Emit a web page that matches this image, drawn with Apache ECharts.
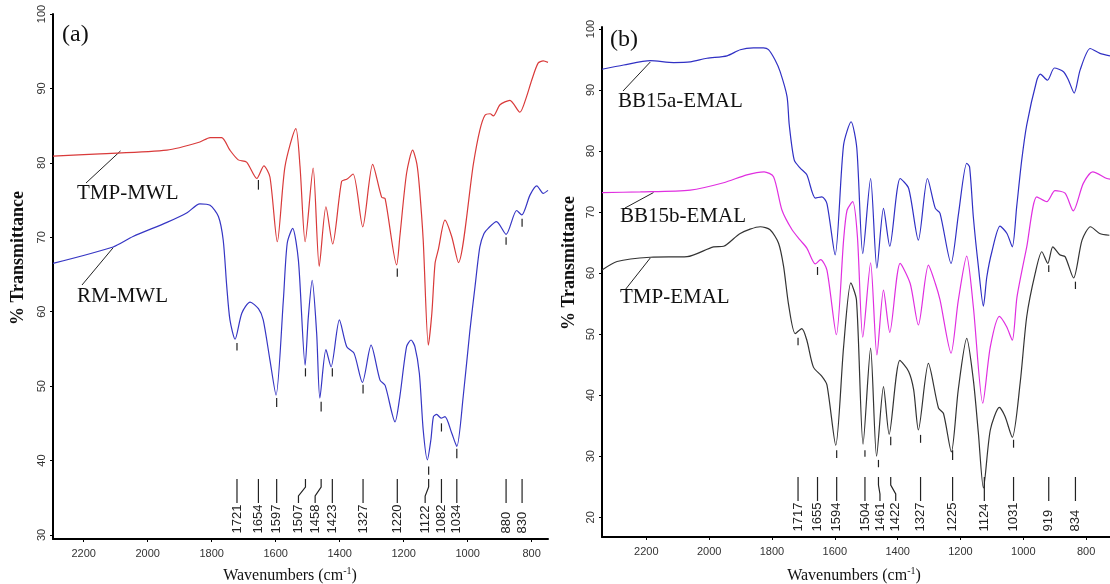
<!DOCTYPE html>
<html>
<head>
<meta charset="utf-8">
<title>FTIR spectra</title>
<script src="https://cdn.jsdelivr.net/npm/echarts@6.0.0/dist/echarts.min.js"></script>
<style>
  html, body { margin: 0; padding: 0; background: #fff; }
  #chart { width: 1110px; height: 584px; }
</style>
</head>
<body>
<div id="chart"></div>
<script>
// axis ticks
const wnTicks = [800, 1000, 1200, 1400, 1600, 1800, 2000, 2200]
const tTicksA = [30, 40, 50, 60, 70, 80, 90, 100]
const tTicksB = [20, 30, 40, 50, 60, 70, 80, 90, 100]

// panel (a) spectra: [wavenumber, %T]
const tmpMwl = [
  [2296, 80.9], [2149, 81.2], [1940, 81.7], [1837, 82.8], [1805, 83.4], [1769, 83.4], [1743, 81.7],
  [1717, 80.4], [1691, 80.1], [1659, 77.9], [1637, 79.6], [1618, 78.1], [1595, 69.4], [1571, 79.5],
  [1537, 84.6], [1524, 79.5], [1508, 69.4], [1483, 79.3], [1464, 66.1], [1443, 74.1], [1422, 69.1],
  [1394, 77.5], [1378, 77.8], [1358, 78.5], [1328, 71.4], [1297, 79.8], [1269, 75.4], [1258, 75.2],
  [1222, 66.3], [1212, 70.1], [1191, 78.6], [1172, 81.7], [1159, 79.9], [1151, 76.8], [1139, 69.6],
  [1123, 55.5], [1112, 59.8], [1102, 66.5], [1092, 68.3], [1071, 72.3], [1050, 70.1], [1029, 66.6],
  [982, 79.9], [962, 84.4], [946, 86.4], [930, 86.6], [920, 86.3], [899, 87.8], [868, 88.4],
  [837, 86.8], [816, 88.9], [800, 91.1], [780, 93.4], [764, 93.7], [749, 93.5]
]
const rmMwl = [
  [2296, 66.5], [2108, 68.7], [2046, 70.1], [1940, 72.0], [1877, 73.3], [1837, 74.5], [1805, 74.3],
  [1779, 72.8], [1764, 69.6], [1753, 63.4], [1743, 58.9], [1727, 56.3], [1706, 59.8], [1680, 61.3],
  [1654, 60.4], [1639, 58.9], [1618, 53.5], [1599, 48.8], [1576, 61.6], [1564, 69.2], [1547, 71.2],
  [1529, 66.9], [1508, 52.8], [1498, 59.3], [1486, 64.2], [1472, 57.1], [1462, 48.4], [1443, 54.9],
  [1427, 52.6], [1401, 58.9], [1378, 55.3], [1355, 54.4], [1329, 50.5], [1302, 55.5], [1274, 50.8],
  [1258, 50.1], [1227, 45.2], [1212, 48.6], [1191, 55.3], [1177, 56.2], [1165, 55.3], [1151, 51.7],
  [1139, 44.1], [1126, 40.1], [1115, 42.8], [1107, 45.9], [1097, 46.2], [1083, 45.7], [1071, 45.9],
  [1050, 43.7], [1034, 41.9], [1014, 48.6], [993, 57.5], [977, 63.4], [962, 68.7], [949, 70.5],
  [936, 71.2], [910, 72.1], [880, 70.4], [847, 73.6], [831, 73.0], [805, 75.7], [784, 76.9],
  [764, 75.9], [749, 76.3]
]

// panel (b) spectra
const bb15a = [
  [2341, 93.4], [2272, 94.1], [2187, 94.8], [2113, 94.5], [2060, 94.6], [2007, 95.2], [1943, 95.6],
  [1901, 96.6], [1859, 96.9], [1827, 96.9], [1811, 96.6], [1790, 94.9], [1774, 93.0], [1752, 88.9],
  [1745, 84.3], [1729, 78.5], [1710, 77.2], [1689, 76.1], [1662, 72.3], [1641, 72.5], [1625, 71.4],
  [1599, 63.0], [1572, 81.0], [1548, 84.8], [1530, 80.5], [1511, 63.2], [1486, 75.5], [1466, 60.8],
  [1445, 70.6], [1425, 64.4], [1392, 75.5], [1365, 73.9], [1334, 65.4], [1305, 75.5], [1280, 70.6],
  [1265, 69.8], [1230, 61.6], [1206, 69.8], [1180, 78.0], [1171, 77.4], [1159, 69.2], [1143, 61.1],
  [1127, 54.6], [1116, 59.4], [1100, 63.5], [1074, 67.7], [1052, 66.5], [1035, 64.3], [1021, 70.9],
  [1005, 78.5], [989, 84.3], [957, 91.6], [946, 92.6], [923, 91.6], [901, 93.6], [872, 93.0],
  [856, 91.6], [838, 89.5], [819, 93.3], [787, 96.8], [756, 96.0], [724, 95.6]
]
const bb15b = [
  [2341, 73.2], [2219, 73.3], [2060, 73.6], [1954, 74.8], [1880, 76.1], [1825, 76.6], [1795, 75.8],
  [1768, 70.3], [1736, 67.1], [1710, 65.4], [1689, 64.1], [1662, 61.5], [1645, 62.2], [1625, 60.5],
  [1595, 49.9], [1572, 65.4], [1561, 70.3], [1543, 71.7], [1528, 66.0], [1511, 49.5], [1486, 61.7],
  [1466, 46.6], [1445, 57.2], [1425, 50.3], [1392, 61.6], [1360, 58.3], [1334, 51.5], [1302, 61.3],
  [1280, 58.3], [1265, 55.6], [1230, 46.9], [1207, 55.5], [1180, 62.8], [1159, 54.5], [1129, 38.7],
  [1105, 47.9], [1076, 52.9], [1053, 51.2], [1035, 49.0], [1020, 56.1], [989, 64.3], [957, 72.5],
  [925, 71.7], [899, 73.5], [867, 73.1], [841, 70.2], [809, 74.7], [779, 76.6], [734, 75.5], [724, 75.4]
]
const tmpEmal = [
  [2341, 60.5], [2293, 61.9], [2187, 62.6], [2070, 62.7], [1986, 64.3], [1954, 64.4], [1901, 66.5],
  [1837, 67.6], [1806, 67.1], [1779, 64.9], [1763, 61.1], [1747, 54.8], [1726, 50.1], [1705, 50.9],
  [1689, 49.0], [1668, 44.6], [1641, 43.1], [1625, 41.7], [1597, 31.8], [1572, 47.9], [1549, 58.4],
  [1531, 55.6], [1510, 32.0], [1486, 47.7], [1467, 30.0], [1445, 41.4], [1427, 33.6], [1393, 45.7],
  [1365, 43.9], [1349, 40.9], [1334, 34.3], [1302, 45.2], [1270, 37.9], [1254, 37.0], [1229, 30.7],
  [1207, 40.9], [1180, 49.3], [1159, 42.5], [1143, 33.8], [1127, 24.8], [1105, 34.3], [1076, 38.0],
  [1058, 36.5], [1035, 33.1], [1010, 42.0], [989, 52.9], [962, 60.0], [941, 63.5], [922, 61.6],
  [906, 64.3], [884, 63.0], [867, 62.7], [840, 59.2], [813, 65.4], [786, 67.6], [757, 66.5], [726, 66.2]
]

// peak positions printed along the bottom
const peaksA = [1721, 1654, 1597, 1507, 1458, 1423, 1327, 1220, 1122, 1082, 1034, 880, 830]
const peaksB = [1717, 1655, 1594, 1504, 1461, 1422, 1327, 1225, 1124, 1031, 919, 834]
// short marks under the bands: [wavenumber, %T top, %T bottom]
const marksA = [
  [1654, 77.7, 76.4], [1220, 65.8, 64.7], [1721, 55.8, 54.8], [1597, 48.4, 47.2], [1507, 52.4, 51.3],
  [1458, 47.9, 46.6], [1423, 52.4, 51.3], [1327, 50.2, 49.0], [1122, 39.2, 38.1], [1082, 45.0, 43.9],
  [1034, 41.6, 40.3], [880, 70.0, 69.0], [830, 72.5, 71.4]
]
const marksB = [
  [1717, 49.4, 48.2], [1655, 61.0, 59.7], [1594, 31.0, 29.7], [1504, 31.0, 29.9], [1461, 29.4, 28.2],
  [1422, 33.2, 31.8], [1327, 33.5, 32.2], [1225, 31.0, 29.4], [1031, 32.7, 31.4], [919, 61.3, 60.2],
  [834, 58.6, 57.4]
]

// label leader offsets, px (bent leader lines)
const bendA = { 1507: -7, 1458: -6, 1122: -3.5 }
const bendB = { 1461: 1.5, 1422: 5 }

const chart = echarts.init(document.getElementById('chart'))

function xAx(grid, min, max) {
  return {
    type: 'value', gridIndex: grid, inverse: true, min: min, max: max,
    axisLine: { show: true, onZero: false, lineStyle: { color: '#000', width: 2 } },
    axisTick: { show: true, length: 3, customValues: wnTicks, lineStyle: { color: '#000' } },
    axisLabel: {
      customValues: wnTicks, margin: 9, fontSize: 11, color: '#333', fontFamily: 'Liberation Sans',
      formatter: v => String(v)
    },
    splitLine: { show: false }
  }
}
function yAx(grid, min, max, ticks) {
  return {
    type: 'value', gridIndex: grid, min: min, max: max,
    axisLine: { show: true, onZero: false, lineStyle: { color: '#000', width: 2 } },
    axisTick: { show: true, length: 3, customValues: ticks, lineStyle: { color: '#000' } },
    axisLabel: {
      customValues: ticks, rotate: 90, margin: 6, fontSize: 11, color: '#333', fontFamily: 'Liberation Sans',
      formatter: v => String(v)
    },
    splitLine: { show: false }
  }
}
function spectrum(name, data, idx, color) {
  return {
    name: name, type: 'line', data: data, xAxisIndex: idx, yAxisIndex: idx,
    showSymbol: false, smooth: 0.25, silent: true, z: 2,
    lineStyle: { color: color, width: 1.2 }, itemStyle: { color: color }
  }
}
function markSeries(data, idx) {
  return {
    type: 'custom', xAxisIndex: idx, yAxisIndex: idx, data: data, silent: true, z: 3,
    renderItem(params, api) {
      const p1 = api.coord([api.value(0), api.value(1)])
      const p2 = api.coord([api.value(0), api.value(2)])
      return {
        type: 'line',
        shape: { x1: p1[0], y1: p1[1], x2: p2[0], y2: p2[1] },
        style: { stroke: '#222', lineWidth: 1.2 }
      }
    }
  }
}
function peakSeries(peaks, bends, idx) {
  return {
    type: 'custom', xAxisIndex: idx, yAxisIndex: idx, silent: true, z: 4,
    data: peaks.map(p => [p, 50]),
    renderItem(params, api) {
      const wn = api.value(0)
      const x = api.coord([wn, 50])[0]
      const yb = params.coordSys.y + params.coordSys.height
      const s = bends[wn] || 0
      const pts = s
        ? [[x, yb - 60], [x, yb - 52], [x + s, yb - 43], [x + s, yb - 36]]
        : [[x, yb - 60], [x, yb - 36]]
      return {
        type: 'group',
        children: [
          { type: 'polyline', shape: { points: pts }, style: { stroke: '#222', fill: 'none', lineWidth: 1.2 } },
          {
            type: 'text', x: x + s, y: yb - 5.5, rotation: Math.PI / 2,
            style: { text: String(wn), font: '13px "Liberation Sans"', fill: '#222', align: 'left', verticalAlign: 'middle' }
          }
        ]
      }
    }
  }
}

chart.setOption({
  animation: false,
  backgroundColor: '#fff',
  grid: [
    { left: 53, top: 14, width: 495, height: 525 },
    { left: 602, top: 27, width: 508, height: 510 }
  ],
  xAxis: [xAx(0, 749, 2296), xAx(1, 724, 2341)],
  yAxis: [yAx(0, 29.46, 100, tTicksA), yAx(1, 16.77, 100.32, tTicksB)],
  series: [
    spectrum('TMP-MWL', tmpMwl, 0, '#d93a3a'),
    spectrum('RM-MWL', rmMwl, 0, '#3636c4'),
    spectrum('BB15a-EMAL', bb15a, 1, '#3030c4'),
    spectrum('BB15b-EMAL', bb15b, 1, '#e02fe0'),
    spectrum('TMP-EMAL', tmpEmal, 1, '#333333'),
    markSeries(marksA, 0),
    markSeries(marksB, 1),
    peakSeries(peaksA, bendA, 0),
    peakSeries(peaksB, bendB, 1)
  ]
})

// sample names with leader lines: [name, grid, anchor on curve, leader end px, text px]
const nameLabels = [
  ['TMP-MWL', 0, [2085, 81.6], [86, 183], [77, 193]],
  ['RM-MWL', 0, [2108, 68.6], [82, 285], [77, 296]],
  ['BB15a-EMAL', 1, [2187, 94.6], [623, 91], [618, 101]],
  ['BB15b-EMAL', 1, [2177, 73.2], [625, 208], [620, 216]],
  ['TMP-EMAL', 1, [2187, 62.5], [625, 290], [620, 297]]
]
const serif = '"Liberation Serif", "Times New Roman", serif'
const graphics = []
nameLabels.forEach(([name, g, anchor, end, pos]) => {
  const a = chart.convertToPixel({ gridIndex: g }, anchor)
  graphics.push({
    type: 'line', shape: { x1: a[0], y1: a[1], x2: end[0], y2: end[1] },
    style: { stroke: '#222', lineWidth: 1 }
  })
  graphics.push({
    type: 'text', x: pos[0], y: pos[1],
    style: { text: name, font: '21px ' + serif, fill: '#111', verticalAlign: 'middle' }
  })
})
graphics.push(
  { type: 'text', x: 62, y: 35, style: { text: '(a)', font: '24px ' + serif, fill: '#111', verticalAlign: 'middle' } },
  { type: 'text', x: 610, y: 40, style: { text: '(b)', font: '24px ' + serif, fill: '#111', verticalAlign: 'middle' } },
  {
    type: 'text', x: 18, y: 258, rotation: Math.PI / 2,
    style: { text: '% Transmittance', font: 'bold 18px ' + serif, fill: '#111', align: 'center', verticalAlign: 'middle' }
  },
  {
    type: 'text', x: 569, y: 263, rotation: Math.PI / 2,
    style: { text: '% Transmittance', font: 'bold 18px ' + serif, fill: '#111', align: 'center', verticalAlign: 'middle' }
  }
)
;[290, 854].forEach(cx => {
  graphics.push({
    type: 'text', x: cx, y: 576,
    style: {
      text: '{a|Wavenumbers (cm}{s|-1}{a|)}',
      align: 'center', verticalAlign: 'middle',
      rich: {
        a: { font: '16px ' + serif, fill: '#111' },
        s: { font: '10px ' + serif, fill: '#111', padding: [0, 0, 10, 0] }
      }
    }
  })
})
chart.setOption({ graphic: graphics })
</script>
</body>
</html>
